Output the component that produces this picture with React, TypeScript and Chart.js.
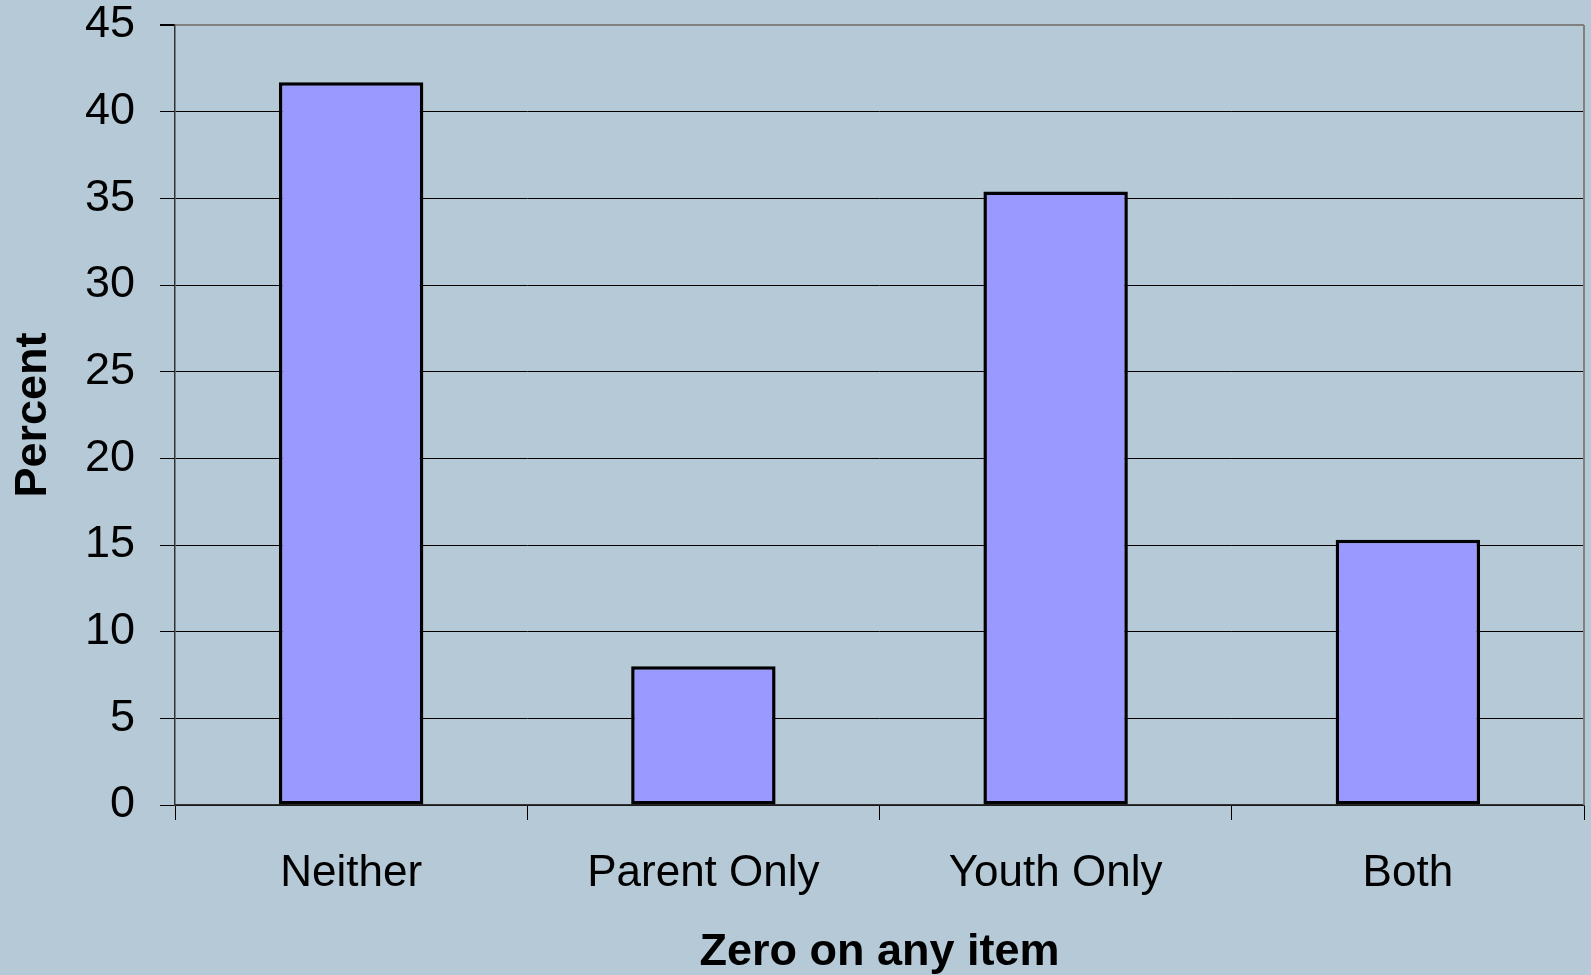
import React, { useEffect, useRef } from "react";
import { Chart, registerables } from "chart.js";

Chart.register(...registerables);

const categories = ["Neither", "Parent Only", "Youth Only", "Both"];
const percentValues = [41.7, 8.0, 35.4, 15.3];
const yTickValues = [0, 5, 10, 15, 20, 25, 30, 35, 40, 45];
const xAxisTitle = "Zero on any item";
const yAxisTitle = "Percent";

const BG = "#B5C9D7";
const FONT = "'Liberation Sans', Arial, sans-serif";

const plotBorderPlugin = {
  id: "plotBorder",
  afterDraw(chart: any) {
    const { ctx, chartArea } = chart;
    ctx.save();
    ctx.strokeStyle = "#808080";
    ctx.lineWidth = 2;
    ctx.beginPath();
    ctx.moveTo(chartArea.right, chartArea.top);
    ctx.lineTo(chartArea.right, chartArea.bottom);
    ctx.stroke();
    ctx.restore();
  },
};

export default function App() {
  const ref = useRef<HTMLCanvasElement | null>(null);

  useEffect(() => {
    document.body.style.margin = "0";
    document.body.style.background = BG;
    if (!ref.current) return;
    const chart = new Chart(ref.current, {
      type: "bar",
      data: {
        labels: categories,
        datasets: [
          {
            data: percentValues,
            backgroundColor: "#9999FF",
            borderColor: "#000000",
            borderWidth: 3.5,
            borderSkipped: false,
            barPercentage: 0.41,
            categoryPercentage: 1,
          },
        ],
      },
      options: {
        animation: false,
        responsive: false,
        maintainAspectRatio: false,
        layout: { padding: { top: 25, right: 7, left: 0, bottom: 0 } },
        plugins: {
          legend: { display: false },
          tooltip: { enabled: false },
          title: { display: false },
        },
        scales: {
          x: {
            offset: true,
            grid: {
              display: true,
              drawOnChartArea: false,
              drawTicks: true,
              tickLength: 15,
              color: "#000",
              lineWidth: 1,
              offset: true,
            },
            border: { display: true, color: "#333", width: 1.5 },
            ticks: {
              color: "#000",
              padding: 27,
              font: { family: FONT, size: 44 },
              maxRotation: 0,
              autoSkip: false,
            },
            title: {
              display: true,
              text: xAxisTitle,
              color: "#000",
              font: { family: FONT, size: 45, weight: "bold", lineHeight: 1.0 },
              padding: { top: 0, bottom: 0 },
            },
            afterFit: (scale: any) => {
              scale.height = 170;
              scale.paddingLeft = 0;
              scale.paddingRight = 0;
            },
          },
          y: {
            min: 0,
            max: 45,
            afterBuildTicks: (scale: any) => {
              scale.ticks = yTickValues.map((v) => ({ value: v }));
            },
            grid: {
              color: (c: any) => (c.tick && c.tick.value === 45 ? "#808080" : "#000"),
              lineWidth: (c: any) => (c.tick && c.tick.value === 45 ? 2 : 1),
              tickColor: "#000",
              tickLength: 15,
              drawTicks: true,
            },
            border: { display: true, color: "#333", width: 1.5 },
            ticks: {
              color: "#000",
              padding: 25,
              font: { family: FONT, size: 45, lineHeight: 1.16 },
            },
            title: {
              display: true,
              text: yAxisTitle,
              color: "#000",
              font: { family: FONT, size: 45, weight: "bold", lineHeight: 1.0 },
              padding: { top: 11, bottom: 0 },
            },
            afterFit: (scale: any) => {
              scale.width = 175;
              scale.paddingTop = 0;
              scale.paddingBottom = 0;
            },
          },
        },
      },
      plugins: [plotBorderPlugin],
    });
    return () => chart.destroy();
  }, []);

  return (
    <div
      style={{
        position: "absolute",
        left: 0,
        top: 0,
        width: 1591,
        height: 975,
        background: BG,
      }}
    >
      <canvas ref={ref} width={1591} height={975} style={{ width: 1591, height: 975, display: "block" }} />
    </div>
  );
}
